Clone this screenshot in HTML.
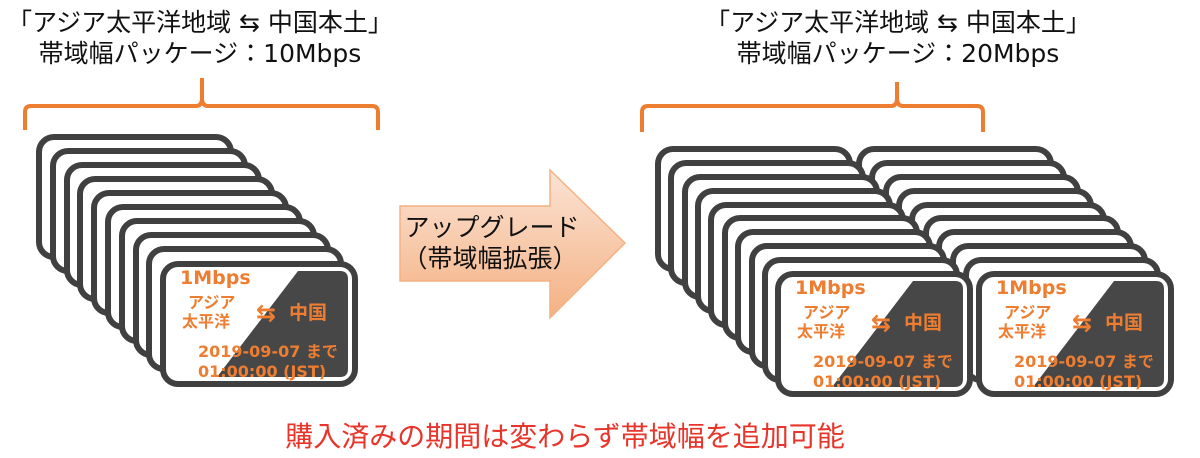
<!DOCTYPE html>
<html><head><meta charset="utf-8"><style>
html,body{margin:0;padding:0;background:#fff;}
svg{display:block;}
text{font-family:"DejaVu Sans","Noto Sans CJK JP",sans-serif;}
.t{font-size:25px;fill:#111;}
.o{fill:#ed7d31;font-weight:bold;}
</style></head><body>
<svg width="1200" height="458" viewBox="0 0 1200 458" xmlns="http://www.w3.org/2000/svg">
<defs>
<g id="card">
<rect x="3" y="3" width="192" height="120" rx="15" fill="#fff" stroke="#404040" stroke-width="6"/>
</g>
<g id="fcard">
<rect x="3" y="3" width="192" height="120" rx="15" fill="#fff" stroke="#404040" stroke-width="6"/>
<path d="M138 10 L180 10 Q188 10 188 18 L188 108 Q188 116 180 116 L57 116 Z" fill="#474747"/>
</g>
<linearGradient id="ag" x1="0" y1="0" x2="0" y2="1">
<stop offset="0" stop-color="#fbe3d4"/><stop offset="1" stop-color="#f4b183"/>
</linearGradient>
<g id="ftext">
<use href="#fcard"/>
<text class="o" x="20" y="23" font-size="19">1Mbps</text>
<text class="o" x="28" y="47" font-size="16">アジア</text>
<text class="o" x="22" y="66" font-size="16">太平洋</text>
<text class="o" x="96" y="60" font-size="24">⇆</text>
<text class="o" x="129" y="58" font-size="19">中国</text>
<text class="o" x="38" y="96" font-size="16">2019-09-07 まで</text>
<text class="o" x="38" y="116" font-size="16">01:00:00 (JST)</text>
</g>
</defs>

<text class="t" x="200" y="31" text-anchor="middle">「アジア太平洋地域 ⇆ 中国本土」</text>
<text class="t" x="200" y="62" text-anchor="middle">帯域幅パッケージ：10Mbps</text>
<text class="t" x="898" y="31" text-anchor="middle">「アジア太平洋地域 ⇆ 中国本土」</text>
<text class="t" x="898" y="62" text-anchor="middle">帯域幅パッケージ：20Mbps</text>

<path d="M25 130 L25 112 Q25 106 31 106 L196 106 Q202 106 202 98 L202 78 M202 78 L202 98 Q202 106 208 106 L372 106 Q378 106 378 112 L378 130" fill="none" stroke="#ed7d31" stroke-width="4"/>
<path d="M642 132 L642 112 Q642 106 648 106 L891 106 Q897 106 897 98 L897 82 M897 98 Q897 106 903 106 L977 106 Q983 106 983 112 L983 132" fill="none" stroke="#ed7d31" stroke-width="4"/>

<use href="#card" x="36" y="134"/>
<use href="#card" x="50" y="148"/>
<use href="#card" x="64" y="162"/>
<use href="#card" x="77" y="176"/>
<use href="#card" x="91" y="190"/>
<use href="#card" x="105" y="204"/>
<use href="#card" x="119" y="218"/>
<use href="#card" x="133" y="232"/>
<use href="#card" x="146" y="246"/>
<use href="#ftext" x="160" y="261"/>

<path d="M400 206 L550 206 L550 170 L625 243 L550 318 L550 281 L400 281 Z" fill="url(#ag)" stroke="#f4b183" stroke-width="1.5"/>
<text x="492" y="236" font-size="25" text-anchor="middle" fill="#111">アップグレード</text>
<text x="490" y="267" font-size="25" text-anchor="middle" fill="#111">（帯域幅拡張）</text>

<use href="#card" x="655" y="146"/><use href="#card" x="856" y="146"/>
<use href="#card" x="668" y="160"/><use href="#card" x="869" y="160"/>
<use href="#card" x="682" y="174"/><use href="#card" x="883" y="174"/>
<use href="#card" x="695" y="188"/><use href="#card" x="896" y="188"/>
<use href="#card" x="708" y="202"/><use href="#card" x="909" y="202"/>
<use href="#card" x="722" y="215"/><use href="#card" x="923" y="215"/>
<use href="#card" x="735" y="229"/><use href="#card" x="936" y="229"/>
<use href="#card" x="749" y="243"/><use href="#card" x="950" y="243"/>
<use href="#card" x="762" y="257"/><use href="#card" x="963" y="257"/>
<use href="#ftext" x="775" y="271"/>
<use href="#ftext" x="976" y="271"/>

<text x="565" y="446" font-size="28" text-anchor="middle" fill="#e8352b">購入済みの期間は変わらず帯域幅を追加可能</text>
</svg>
</body></html>
